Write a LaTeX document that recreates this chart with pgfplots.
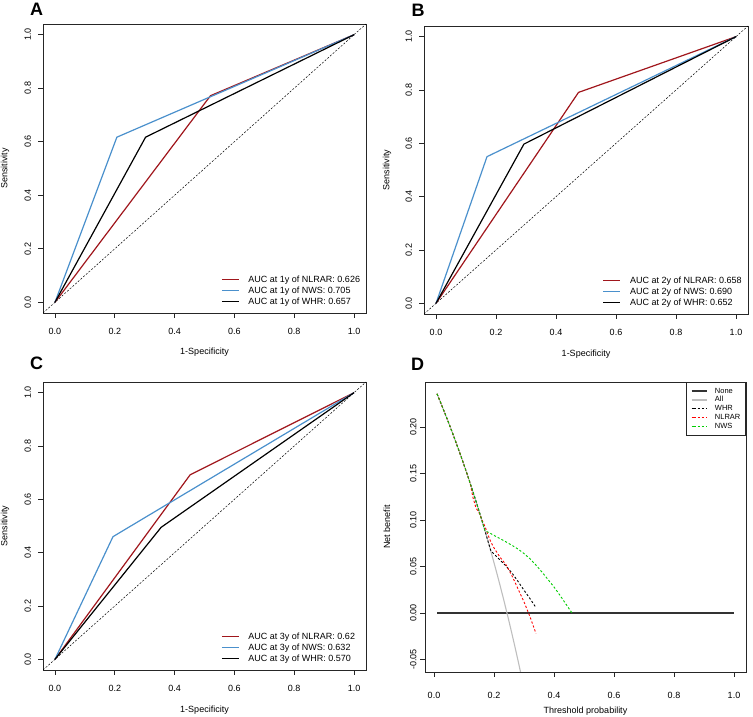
\documentclass[border=0pt]{standalone}
\usepackage{pgfplots}
\pgfplotsset{compat=1.18}
\usepackage{fontspec}
\setmainfont{Liberation Sans}
\definecolor{rocred}{RGB}{160,22,28}
\definecolor{rocblue}{RGB}{74,144,204}
\definecolor{dcagreen}{RGB}{0,205,0}
\definecolor{dcagray}{RGB}{190,190,190}
\newcommand{\nf}{\fontsize{9}{10}\selectfont}
\pgfplotsset{
  rbase/.style={scale only axis,
    axis line style={black!85,line width=0.8pt},
    tick align=outside, major tick length=5pt,
    tick style={black!85,line width=0.7pt},
    tick pos=left, minor tick num=0,
  },
  roc/.style={rbase,
    xmin=-0.04,xmax=1.04,ymin=-0.04,ymax=1.04,
    xtick={0,0.2,0.4,0.6,0.8,1}, xticklabels={0.0,0.2,0.4,0.6,0.8,1.0},
    ytick={0,0.2,0.4,0.6,0.8,1}, yticklabels={0.0,0.2,0.4,0.6,0.8,1.0},
    xticklabel style={font=\nf, inner sep=0pt, anchor=center, yshift=-13pt},
    yticklabel style={font=\nf, inner sep=0pt, anchor=center, rotate=90, yshift=10.3pt},
    legend cell align=left,
    legend style={draw=none, fill=none, at={(axis description cs:0.551,0.019)}, anchor=south west,
      inner sep=0pt, row sep=0pt, column sep=7.8pt, font=\nf,
      nodes={inner sep=1.2pt, text height=6.6pt, text depth=2pt}},
    legend image code/.code={\draw[##1, line width=1.3pt] (0pt,0pt) -- (17pt,0pt);},
  },
  diag/.style={black, line width=0.5pt, dash pattern=on 2pt off 1.6pt, forget plot},
}
\begin{document}
\begin{tikzpicture}
\useasboundingbox (0,0) rectangle (753pt,717pt);
% ---------- A ----------
\begin{axis}[roc, at={(43pt,404pt)}, anchor=south west, width=323pt, height=289pt]
\addplot[diag] coordinates {(-0.04,-0.04) (1.04,1.04)};
\addplot[rocred, line width=1.2pt] coordinates {(0,0) (0.52,0.772) (1,1)};
\addlegendentry{AUC at 1y of NLRAR: 0.626}
\addplot[rocblue, line width=1.2pt] coordinates {(0,0) (0.207,0.617) (1,1)};
\addlegendentry{AUC at 1y of NWS: 0.705}
\addplot[black, line width=1.2pt] coordinates {(0,0) (0.303,0.617) (1,1)};
\addlegendentry{AUC at 1y of WHR: 0.657}
\end{axis}
% ---------- B ----------
\begin{axis}[roc, at={(424pt,403pt)}, anchor=south west, width=324pt, height=288pt]
\addplot[diag] coordinates {(-0.04,-0.04) (1.04,1.04)};
\addplot[rocred, line width=1.2pt] coordinates {(0,0) (0.475,0.791) (1,1)};
\addlegendentry{AUC at 2y of NLRAR: 0.658}
\addplot[rocblue, line width=1.2pt] coordinates {(0,0) (0.17,0.55) (1,1)};
\addlegendentry{AUC at 2y of NWS: 0.690}
\addplot[black, line width=1.2pt] coordinates {(0,0) (0.293,0.597) (1,1)};
\addlegendentry{AUC at 2y of WHR: 0.652}
\end{axis}
% ---------- C ----------
\begin{axis}[roc, at={(43pt,47pt)}, anchor=south west, width=323pt, height=288pt]
\addplot[diag] coordinates {(-0.04,-0.04) (1.04,1.04)};
\addplot[rocred, line width=1.2pt] coordinates {(0,0) (0.452,0.692) (1,1)};
\addlegendentry{AUC at 3y of NLRAR: 0.62}
\addplot[rocblue, line width=1.2pt] coordinates {(0,0) (0.194,0.46) (1,1)};
\addlegendentry{AUC at 3y of NWS: 0.632}
\addplot[black, line width=1.2pt] coordinates {(0,0) (0.355,0.495) (1,1)};
\addlegendentry{AUC at 3y of WHR: 0.570}
\end{axis}
% ---------- D ----------
\begin{axis}[rbase, at={(425pt,45pt)}, anchor=south west, width=321pt, height=290pt,
  xmin=-0.03, xmax=1.04, ymin=-0.0634, ymax=0.2484,
  xtick={0,0.2,0.4,0.6,0.8,1}, xticklabels={0.0,0.2,0.4,0.6,0.8,1.0},
  ytick={-0.05,0,0.05,0.1,0.15,0.2}, yticklabels={-0.05,0.00,0.05,0.10,0.15,0.20},
  xticklabel style={font=\nf, inner sep=0pt, anchor=center, yshift=-18pt},
  yticklabel style={font=\nf, inner sep=0pt, anchor=center, rotate=90, yshift=6.7pt},
  legend cell align=left,
  legend style={draw=black!85, line width=0.6pt, fill=white, at={(axis description cs:1,1)}, anchor=north east,
    inner sep=4.5pt, row sep=0pt, column sep=6.75pt, font=\fontsize{7.5}{8}\selectfont,
    nodes={inner sep=0.85pt, text height=5.5pt, text depth=1.6pt}},
  legend image code/.code={\path (0pt,0pt) -- (1.8pt,0pt); \draw[#1] (1.8pt,0pt) -- (14.8pt,0pt);},
]
\addplot[black!80, line width=1.6pt] coordinates {(0.01,0) (1,0)};
\addlegendentry{None}
\addplot[dcagray, line width=1.1pt] coordinates {
(0.01,0.2357) (0.02,0.2279) (0.03,0.2199) (0.04,0.2118) (0.05,0.2035) (0.06,0.1950)
(0.07,0.1863) (0.08,0.1775) (0.09,0.1685) (0.10,0.1592) (0.11,0.1498) (0.12,0.1401)
(0.13,0.1302) (0.14,0.1201) (0.15,0.1098) (0.16,0.0992) (0.17,0.0883) (0.18,0.0772)
(0.19,0.0658) (0.20,0.0541) (0.21,0.0422) (0.22,0.0299) (0.23,0.0173) (0.24,0.0043)
(0.25,-0.0089) (0.26,-0.0226) (0.27,-0.0366) (0.28,-0.0510) (0.29,-0.0658) (0.30,-0.0810)};
\addlegendentry{All}
\addplot[black, line width=0.9pt, dash pattern=on 2.2pt off 2pt] coordinates {
(0.01,0.2357) (0.02,0.2279) (0.03,0.2199) (0.04,0.2118) (0.05,0.2035) (0.06,0.1950)
(0.07,0.1863) (0.08,0.1775) (0.09,0.1685) (0.10,0.1592) (0.11,0.1498) (0.12,0.1401)
(0.13,0.1302) (0.14,0.1201) (0.15,0.1098) (0.16,0.0992) (0.17,0.0883) (0.18,0.0772)
(0.19,0.0665) (0.20,0.0635) (0.22,0.0570) (0.24,0.0505) (0.26,0.0430) (0.28,0.0340)
(0.30,0.0245) (0.32,0.0155) (0.34,0.0058)};
\addlegendentry{WHR}
\addplot[red, line width=0.9pt, dash pattern=on 2.2pt off 2pt] coordinates {
(0.01,0.2357) (0.02,0.2279) (0.03,0.2199) (0.04,0.2118) (0.05,0.2035) (0.06,0.1950)
(0.07,0.1863) (0.08,0.1775) (0.09,0.1685) (0.10,0.1592) (0.11,0.1498) (0.12,0.1401)
(0.13,0.124) (0.14,0.113) (0.15,0.108) (0.16,0.100) (0.17,0.093) (0.18,0.084)
(0.19,0.076) (0.20,0.070) (0.22,0.060) (0.24,0.052) (0.26,0.040) (0.28,0.026)
(0.30,0.012) (0.32,-0.004) (0.34,-0.022)};
\addlegendentry{NLRAR}
\addplot[dcagreen, line width=0.9pt, dash pattern=on 2.2pt off 2pt] coordinates {
(0.01,0.2357) (0.02,0.2279) (0.03,0.2199) (0.04,0.2118) (0.05,0.2035) (0.06,0.1950)
(0.07,0.1863) (0.08,0.1775) (0.09,0.1685) (0.10,0.1592) (0.11,0.1498) (0.12,0.1401)
(0.13,0.1302) (0.14,0.1201) (0.15,0.1098) (0.16,0.0992) (0.17,0.0883) (0.18,0.0870)
(0.20,0.0835) (0.22,0.0800) (0.24,0.0765) (0.26,0.0728) (0.28,0.0688) (0.30,0.0640)
(0.32,0.0583) (0.34,0.0515) (0.36,0.0440) (0.38,0.0360) (0.40,0.0280) (0.42,0.0190)
(0.44,0.0095) (0.46,0.0)};
\addlegendentry{NWS}
\end{axis}
% ---------- letters and axis labels ----------
\begin{scope}[every node/.style={inner sep=0pt}]
\node[anchor=base west, font=\bfseries\fontsize{18}{18}\selectfont] at (30pt,701.5pt) {A};
\node[anchor=base west, font=\bfseries\fontsize{18}{18}\selectfont] at (411.5pt,700.5pt) {B};
\node[anchor=base west, font=\bfseries\fontsize{18}{18}\selectfont] at (30pt,347pt) {C};
\node[anchor=base west, font=\bfseries\fontsize{18}{18}\selectfont] at (411pt,346pt) {D};
\node[font=\nf] at (204.5pt,364.5pt) {1-Specificity};
\node[font=\nf, rotate=90] at (5pt,548.5pt) {Sensitivity};
\node[font=\nf] at (586pt,363pt) {1-Specificity};
\node[font=\nf, rotate=90] at (387pt,547pt) {Sensitivity};
\node[font=\nf] at (204.5pt,7pt) {1-Specificity};
\node[font=\nf, rotate=90] at (5pt,191pt) {Sensitivity};
\node[font=\nf] at (585.5pt,6pt) {Threshold probability};
\node[font=\nf, rotate=90] at (387pt,190pt) {Net benefit};
\end{scope}
\end{tikzpicture}
\end{document}
